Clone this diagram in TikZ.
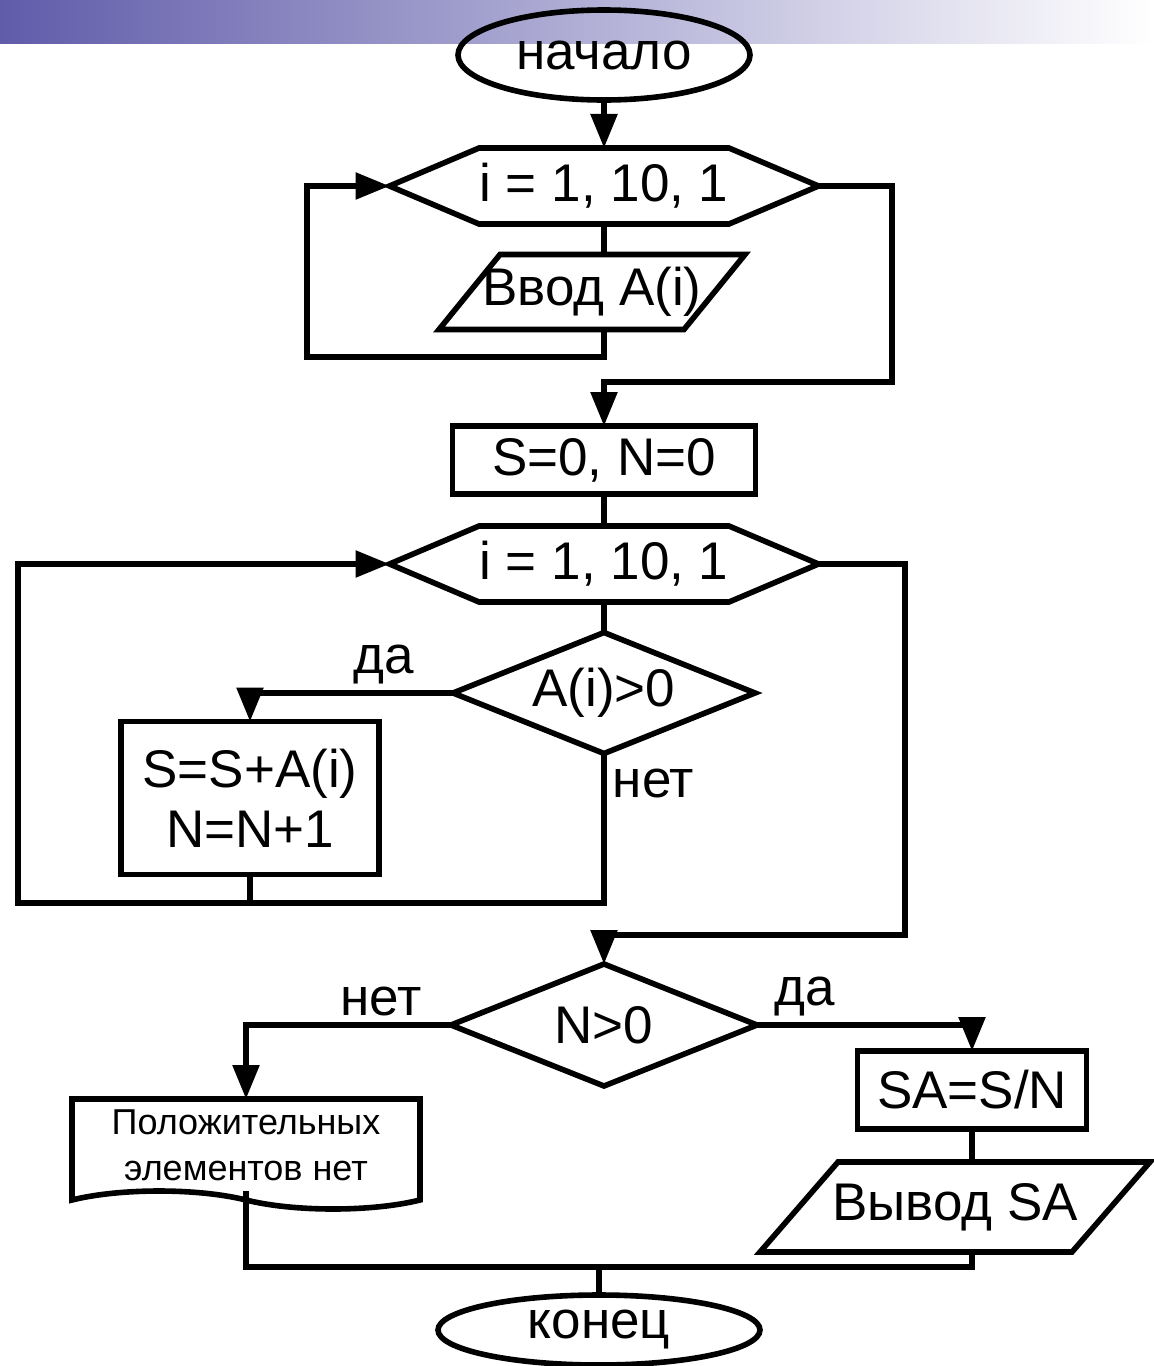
\documentclass[tikz,border=0pt]{standalone}
\usepackage{fontspec}
\setmainfont{Liberation Sans}
\usepackage{tikz}
\usetikzlibrary{shapes,arrows,arrows.meta}
\definecolor{barblue}{RGB}{96,92,170}
\tikzstyle{line} = [line width=2.8pt]
\tikzstyle{term} = [ellipse, draw, line, inner sep=0pt, outer sep=0pt, font=\fontsize{26.5}{30}\selectfont]
\tikzstyle{cycle} = [signal, signal to=west and east, signal pointer angle=46, draw, line, inner sep=0pt, outer sep=0pt, minimum width=214.5pt, minimum height=38pt, font=\fontsize{26.5}{30}\selectfont]
\tikzstyle{block} = [rectangle, draw, line, inner sep=0pt, outer sep=0pt, align=center, font=\fontsize{26.5}{30}\selectfont]
\tikzstyle{decision} = [diamond, draw, line, inner sep=0pt, outer sep=0pt, aspect=2.5, font=\fontsize{26.5}{30}\selectfont]
\tikzstyle{io} = [rectangle, inner sep=0pt, outer sep=0pt, font=\fontsize{26.5}{30}\selectfont,
   append after command={\pgfextra{\draw[line] (\tikzlastnode.south west) -- ([xshift=#1]\tikzlastnode.north west)
   -- (\tikzlastnode.north east) -- ([xshift=-#1]\tikzlastnode.south east) -- cycle;}}]
\tikzstyle{doc} = [tape, tape bend top=none, tape bend bottom=out and in, tape bend height=9pt, draw, line, inner sep=0pt, outer sep=0pt, align=center, font=\fontsize{18}{23}\selectfont]
\tikzstyle{lbl} = [inner sep=3pt, font=\fontsize{26.5}{30}\selectfont]

\begin{document}
\begin{tikzpicture}[x=0.5pt, y=-0.5pt, >={Triangle[length=17pt,width=13pt]}]
   \useasboundingbox (0,0) rectangle (1153,1366);
   \shade[left color=barblue, right color=white] (0,0) rectangle (1153,43);
   % Place nodes
   \node [term, minimum width=146pt, minimum height=45pt] (start) at (604,55) {начало};
   \node [cycle] (hex1) at (604,186) {i = 1, 10, 1};
   \node [io=30.5pt, minimum width=153pt, minimum height=37.5pt] (in1) at (592,292) {Ввод A(i)};
   \node [block, minimum width=151.5pt, minimum height=34pt] (init) at (604,460) {S=0, N=0};
   \node [cycle] (hex2) at (604,564) {i = 1, 10, 1};
   \node [decision, minimum width=151pt, minimum height=60.5pt] (dec1) at (604,693) {A(i)>0};
   \node [block, minimum width=129pt, minimum height=76.5pt] (sum) at (250,798) {S=S+A(i)\\N=N+1};
   \node [decision, minimum width=153pt, minimum height=61pt] (dec2) at (604,1025) {N>0};
   \node [doc, minimum width=174pt, minimum height=55pt] (none) at (246,1145) {Положительных\\элементов нет};
   \node [block, minimum width=114.5pt, minimum height=39pt] (avg) at (972,1090) {SA=S/N};
   \node [io=39pt, minimum width=195pt, minimum height=45pt] (out) at (955,1207) {Вывод SA};
   \node [term, minimum width=161pt, minimum height=35pt] (stop) at (599,1330) {конец};
   % Corner points
   \coordinate (l1) at (307,357);
   \coordinate (r1) at (892,382);
   \coordinate (l2) at (18,903);
   \coordinate (r2) at (905,935);
   \coordinate (m) at (599,1267);
   % First loop
   \draw[line,->] (start) -- (hex1);
   \draw[line] (hex1.south) -- (hex1.south |- in1.north);
   \draw[line,->] (hex1.south |- in1.south) |- (l1) |- (hex1.west);
   \draw[line,->] (hex1.east) -| (r1) -| (init.north);
   % Second loop
   \draw[line] (init) -- (hex2);
   \draw[line] (hex2) -- (dec1);
   \draw[line,->] (dec1.west) -| node [lbl, pos=0.17, above] {да} (sum.north);
   \draw[line,->] (dec1.south) |- node [lbl, pos=0.1, right] {нет} (l2) |- (hex2.west);
   \draw[line] (sum.south) -- (sum.south |- l2);
   \draw[line,->] (hex2.east) -| (r2) -| (dec2.north);
   % Result
   \draw[line,->] (dec2.west) -| node [lbl, pos=0.17, above] {нет} (none.north);
   \draw[line,->] (dec2.east) -| node [lbl, pos=0.11, above] {да} (avg.north);
   \draw[line] (avg.south) -- (avg.south |- out.north);
   \draw[line] (none.south) |- (m) -| (avg.south |- out.south);
   \draw[line] (m) -- (stop);
\end{tikzpicture}
\end{document}
